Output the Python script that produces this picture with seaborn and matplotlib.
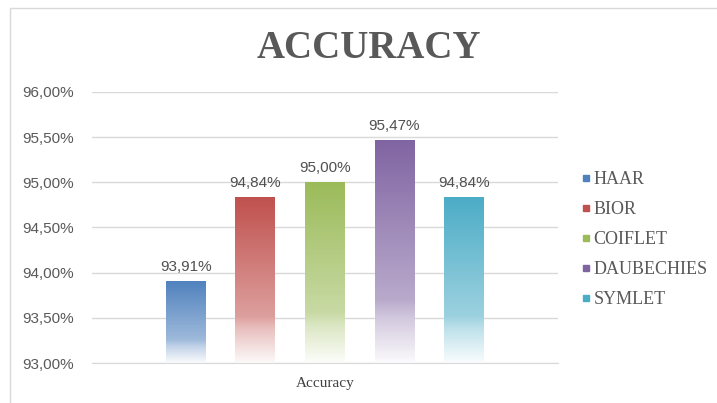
import matplotlib
matplotlib.use("Agg")
import matplotlib.pyplot as plt
from matplotlib.lines import Line2D
from matplotlib.colors import to_rgb
import numpy as np
import pandas as pd
import seaborn as sns

methods = ["HAAR", "BIOR", "COIFLET", "DAUBECHIES", "SYMLET"]
accuracy = [93.91, 94.84, 95.00, 95.47, 94.84]
colors = ["#4F81BD", "#C0504D", "#9BBB59", "#8064A2", "#4BACC6"]
y_ticks = [93.0, 93.5, 94.0, 94.5, 95.0, 95.5, 96.0]

df = pd.DataFrame({"method": methods, "accuracy": accuracy})

sns.set_style("white")
plt.rcParams["font.family"] = ["Liberation Sans", "DejaVu Sans"]

fig = plt.figure(figsize=(7.17, 4.03), dpi=100)
ax = fig.add_axes([0.128, 0.099, 0.650, 0.673])

sns.barplot(data=df, x="method", y="accuracy", hue="method", palette=colors,
            width=0.57, ax=ax, legend=False, saturation=1)


def fade(color):
    # Excel-like gradient: full colour at the top, washing out to white at the base
    rgb = np.array(to_rgb(color))
    t = np.linspace(0, 1, 200)
    strength = np.interp(t, [0, 0.72, 0.8, 1.0], [1.0, 0.55, 0.35, 0.03])
    img = strength[:, None] * rgb + (1 - strength[:, None]) * np.ones(3)
    return img[:, None, :]


for patch, col, val in zip(ax.patches, colors, accuracy):
    x0 = patch.get_x()
    w = patch.get_width()
    patch.set_facecolor("none")
    patch.set_edgecolor("none")
    im = ax.imshow(fade(col), extent=[x0, x0 + w, 93, val], aspect="auto",
                   origin="upper", zorder=2, interpolation="bilinear")
    im.set_clip_path(patch)
    ax.text(x0 + w / 2, val + 0.08, f"{val:.2f}%".replace(".", ","),
            ha="center", va="bottom", fontsize=11, color="#505050")

ax.set_xlim(-1.35, 5.35)
ax.set_ylim(93, 96)

ax.set_yticks(y_ticks)
ax.set_yticklabels([f"{v:.2f}%".replace(".", ",") for v in y_ticks],
                   fontsize=11, color="#595959")
ax.tick_params(axis="y", length=0, pad=13)
ax.set_xticks([])
ax.set_xlabel("Accuracy", family="Liberation Serif", fontsize=11, color="#404040", labelpad=10)
ax.set_ylabel("")
ax.grid(True, axis="y", color="#D9D9D9", linewidth=1)
ax.set_axisbelow(True)
for side in ["left", "right", "top"]:
    ax.spines[side].set_visible(False)
ax.spines["bottom"].set_color("#D9D9D9")

fig.text(0.515, 0.88, "ACCURACY", ha="center", va="center",
         family="Liberation Serif", fontweight="bold", fontsize=28, color="#595959")

handles = [Line2D([0], [0], marker="s", linestyle="none", markersize=5,
                  markerfacecolor=c, markeredgecolor=c) for c in colors]
leg = fig.legend(handles, methods, loc="upper left", bbox_to_anchor=(0.784, 0.616),
                 frameon=False, handletextpad=0.05, labelspacing=0.72,
                 prop={"family": "Liberation Serif", "size": 13}, handlelength=0.8)
for txt in leg.get_texts():
    txt.set_color("#595959")

# light chart-area border
fig.add_artist(plt.Line2D([10 / 717, 10 / 717], [0, 1 - 8 / 403], transform=fig.transFigure,
                          color="#D9D9D9", linewidth=1))
fig.add_artist(plt.Line2D([10 / 717, 1], [1 - 8 / 403, 1 - 8 / 403], transform=fig.transFigure,
                          color="#D9D9D9", linewidth=1))

fig.savefig("out.png", dpi=100)
